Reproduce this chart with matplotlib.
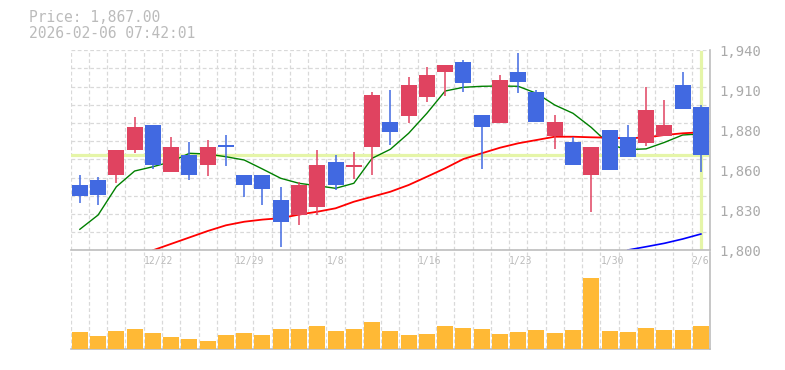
import matplotlib.pyplot as plt
import numpy as np

# daily candles, 12/16 .. 2/6
dates = ['12/16', '12/17', '12/18', '12/19', '12/22', '12/23', '12/24', '12/25', '12/26',
         '12/29', '12/30', '1/5', '1/6', '1/7', '1/8', '1/9', '1/13', '1/14', '1/15', '1/16',
         '1/19', '1/20', '1/21', '1/22', '1/23', '1/26', '1/27', '1/28', '1/29', '1/30',
         '2/2', '2/3', '2/4', '2/5', '2/6']
opens = [1846, 1849, 1853, 1870, 1888, 1855, 1867, 1860, 1874, 1853, 1853, 1835, 1825, 1830,
         1862, 1858, 1872, 1890, 1894, 1907, 1925, 1932, 1895, 1889, 1925, 1911, 1880, 1876,
         1853, 1884, 1879, 1875, 1880, 1916, 1900]
highs = [1853, 1851, 1870, 1893, 1888, 1879, 1876, 1877, 1881, 1853, 1853, 1844, 1848, 1870,
         1867, 1869, 1911, 1912, 1921, 1928, 1930, 1933, 1895, 1923, 1938, 1912, 1895, 1879,
         1872, 1884, 1888, 1914, 1905, 1925, 1902]
lows = [1833, 1832, 1847, 1868, 1857, 1855, 1849, 1852, 1859, 1837, 1832, 1802, 1818, 1825,
        1842, 1850, 1853, 1874, 1889, 1904, 1908, 1911, 1857, 1889, 1910, 1890, 1871, 1860,
        1827, 1856, 1865, 1873, 1880, 1899, 1855]
closes = [1838, 1839, 1870, 1886, 1860, 1872, 1853, 1872, 1872, 1846, 1843, 1820, 1846, 1860,
          1846, 1860, 1909, 1883, 1916, 1923, 1930, 1917, 1886, 1919, 1918, 1890, 1890, 1860,
          1872, 1856, 1865, 1898, 1888, 1899, 1867]
volumes = [170, 130, 180, 200, 160, 120, 100, 80, 140, 160, 140, 200, 200, 230, 180, 200, 270,
           180, 140, 150, 230, 210, 200, 150, 170, 190, 160, 190, 713, 180, 170, 210, 190, 190, 230]

# moving averages
nan = np.nan
ma_short = [1814.7, 1824.7, 1844.5, 1855.5, 1858.5, 1862, 1867.9, 1867.4, 1865.5, 1863.2,
            1856.9, 1850.4, 1846.9, 1845.2, 1843.4, 1846.9, 1864.4, 1870.7, 1881.9, 1895.9,
            1911.5, 1914.1, 1914.8, 1915, 1914.8, 1909.9, 1901.7, 1895.9, 1886, 1874,
            1870.5, 1871, 1875.5, 1880.7, 1881.5]
ma_mid = [nan, nan, nan, nan, 1800, 1804.5, 1809, 1813.5, 1817.5, 1820, 1821.5, 1822.5, 1825,
          1827, 1829.4, 1834, 1837.5, 1841, 1845.7, 1851.5, 1857.4, 1863.9, 1867.9, 1871.8,
          1874.9, 1877.2, 1879.5, 1879.5, 1879.1, 1878.8, 1878.4, 1879, 1880.7, 1881.9, 1882.6]
ma_long = [nan] * 30 + [1800.2, 1802.5, 1804.9, 1807.9, 1811.4]

price_now = 1867.0
stamp = '2026-02-06 07:42:01'
ytick_vals = [1800, 1828, 1856, 1884, 1912, 1940]
ytick_labels = ['1,800', '1,830', '1,860', '1,880', '1,910', '1,940']

UP = '#e04360'
DOWN = '#4169e1'
GRID = '#d9d9d9'
FRAME = '#bdbdbd'
HILITE = '#e5f5a8'
MONO = 'DejaVu Sans Mono'

o = np.array(opens, float)
c = np.array(closes, float)
x = np.arange(len(dates))
cols = [UP if cc >= oo else DOWN for oo, cc in zip(o, c)]

fig = plt.figure(figsize=(7.85, 3.7), dpi=100)
W, H = 785, 370
axv = fig.add_axes([70.7 / W, 1 - 349 / H, 639.3 / W, 97 / H])
ax = fig.add_axes([70.7 / W, 1 - 250.3 / H, 639.3 / W, 200 / H])
axv.patch.set_visible(False)
ax.patch.set_visible(False)

for a in (ax, axv):
    a.set_xlim(-0.5, len(dates) - 0.5)
    a.set_xticks(np.arange(len(dates) + 1) - 0.5, minor=True)
    a.xaxis.remove_overlapping_locs = False
    a.grid(True, which='minor', axis='x', color=GRID, linestyle=(0, (3, 2)), lw=0.9)
    a.set_axisbelow(True)
    for s in ('left', 'top'):
        a.spines[s].set_visible(False)
    for s in ('right', 'bottom'):
        a.spines[s].set_color(FRAME)
        a.spines[s].set_linewidth(1.2)
    a.tick_params(which='both', length=0)

# price panel
ax.set_ylim(1800, 1940)
ax.set_yticks(np.linspace(1800, 1940, 12), minor=True)
ax.yaxis.remove_overlapping_locs = False
ax.grid(True, which='minor', axis='y', color=GRID, linestyle=(0, (3, 2)), lw=0.9)
ax.yaxis.tick_right()
ax.set_yticks(ytick_vals)
ax.set_yticklabels(ytick_labels, fontsize=10, color='#aaaaaa', family=MONO)
ax.tick_params(axis='y', pad=7)

ax.set_xticks(x[4::5] - 0.5)
ax.set_xticklabels(dates[4::5], fontsize=7, color='#bbbbbb', family=MONO, ha='left')
ax.tick_params(axis='x', pad=4)

ax.axhline(price_now, color=HILITE, lw=2.3, zorder=1)
ax.axvline(x[-1], ymin=0.008, ymax=0.992, color=HILITE, lw=2.3, zorder=1)

ax.plot(x, ma_short, color='#008000', lw=1.0, zorder=2)
ax.plot(x, ma_mid, color='#ff0000', lw=1.3, zorder=2)
ax.plot(x, ma_long, color='#0000ff', lw=1.2, zorder=2)

ax.vlines(x, lows, highs, colors=cols, lw=1.1, zorder=3)
body_lo = np.minimum(o, c)
body_h = np.maximum(np.abs(c - o), 0.6)
ax.bar(x, body_h, bottom=body_lo, width=0.876, color=cols, zorder=4)

# volume panel
axv.bar(x, volumes, width=0.876, color='#ffb935', zorder=3)
axv.set_ylim(0, 970)
axv.set_yticks([])
axv.set_xticks([])

fig.text(29 / W, 1 - 18 / H, 'Price: {:,.2f}'.format(price_now), fontsize=10.5,
         color='#bbbbbb', family=MONO, va='center')
fig.text(29 / W, 1 - 33.5 / H, stamp, fontsize=10.5, color='#bbbbbb', family=MONO,
         va='center')

fig.savefig('out.png', dpi=100, facecolor='white')
